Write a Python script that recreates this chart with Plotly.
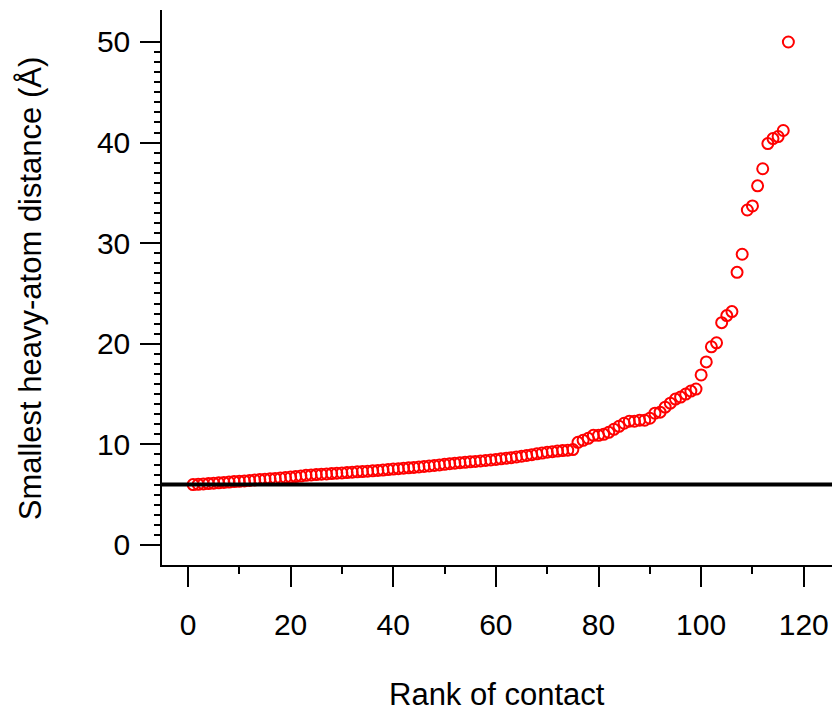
import plotly.graph_objects as go

# Rank of each contact and its smallest heavy-atom distance (Å)
rank = list(range(1, 118))
distance = [
    6.00, 6.03, 6.07, 6.10, 6.14, 6.18, 6.22, 6.25, 6.30, 6.33,
    6.37, 6.42, 6.46, 6.50, 6.54, 6.58, 6.62, 6.66, 6.71, 6.75,
    6.80, 6.85, 6.92, 6.96, 7.00, 7.03, 7.06, 7.10, 7.13, 7.16,
    7.20, 7.23, 7.27, 7.30, 7.33, 7.37, 7.41, 7.45, 7.50, 7.55,
    7.59, 7.63, 7.67, 7.71, 7.75, 7.80, 7.85, 7.90, 7.96, 8.02,
    8.08, 8.13, 8.18, 8.22, 8.27, 8.31, 8.35, 8.40, 8.45, 8.50,
    8.56, 8.62, 8.68, 8.75, 8.82, 8.90, 8.98, 9.06, 9.14, 9.22,
    9.28, 9.33, 9.38, 9.42, 9.48, 10.20, 10.40, 10.60, 10.90, 10.90,
    11.00, 11.20, 11.50, 11.80, 12.10, 12.30, 12.30, 12.40, 12.40, 12.60,
    13.10, 13.20, 13.70, 14.10, 14.50, 14.70, 15.00, 15.30, 15.50, 16.90,
    18.20, 19.70, 20.10, 22.10, 22.80, 23.20, 27.10, 28.90, 33.30, 33.70,
    35.70, 37.40, 39.90, 40.40, 40.60, 41.20, 50.00,
]
cutoff = 6.0

x_ticks = [0, 20, 40, 60, 80, 100, 120]
y_ticks = [0, 10, 20, 30, 40, 50]

FONT = "Liberation Sans, Arial, sans-serif"

fig = go.Figure()
fig.add_trace(go.Scatter(
    x=rank, y=distance, mode="markers",
    marker=dict(symbol="circle-open", size=11, color="#ff0000",
                line=dict(width=2, color="#ff0000")),
    showlegend=False, cliponaxis=False,
))

fig.add_shape(type="line", xref="paper", x0=0, x1=1, yref="y", y0=cutoff, y1=cutoff,
              line=dict(color="black", width=4), layer="above")

axis_common = dict(
    showgrid=False, zeroline=False, showline=True, linecolor="black", linewidth=1.5,
    ticks="outside", ticklen=20, tickwidth=1.5, tickcolor="black",
    tickfont=dict(family=FONT, size=30, color="black"),
    mirror=False,
)

fig.update_xaxes(
    range=[-5.06, 125.5], tickmode="array", tickvals=x_ticks,
    ticklabelstandoff=12,
    minor=dict(tickmode="array", tickvals=[10, 30, 50, 70, 90, 110],
               ticks="outside", ticklen=7, tickwidth=1.5, tickcolor="black"),
    **axis_common,
)
fig.update_yaxes(
    range=[-1.99, 53.18], tickmode="array", tickvals=y_ticks,
    ticklabelstandoff=4,
    minor=dict(tickmode="array", tickvals=[v for v in range(1, 50) if v % 10],
               ticks="outside", ticklen=6, tickwidth=1.5, tickcolor="black"),
    **axis_common,
)

fig.add_annotation(text="Rank of contact", xref="paper", yref="paper",
                   x=0.5, y=-0.234, xanchor="center", yanchor="middle",
                   showarrow=False, font=dict(family=FONT, size=31, color="black"))
fig.add_annotation(text="Smallest heavy-atom distance (Å)", xref="paper", yref="paper",
                   x=-0.197, y=0.497, xanchor="center", yanchor="middle", textangle=-90,
                   showarrow=False, font=dict(family=FONT, size=31, color="black"))

fig.update_layout(
    width=836, height=712,
    margin=dict(l=162, r=4, t=10, b=147),
    plot_bgcolor="white", paper_bgcolor="white",
)

fig.write_html("out.html")
